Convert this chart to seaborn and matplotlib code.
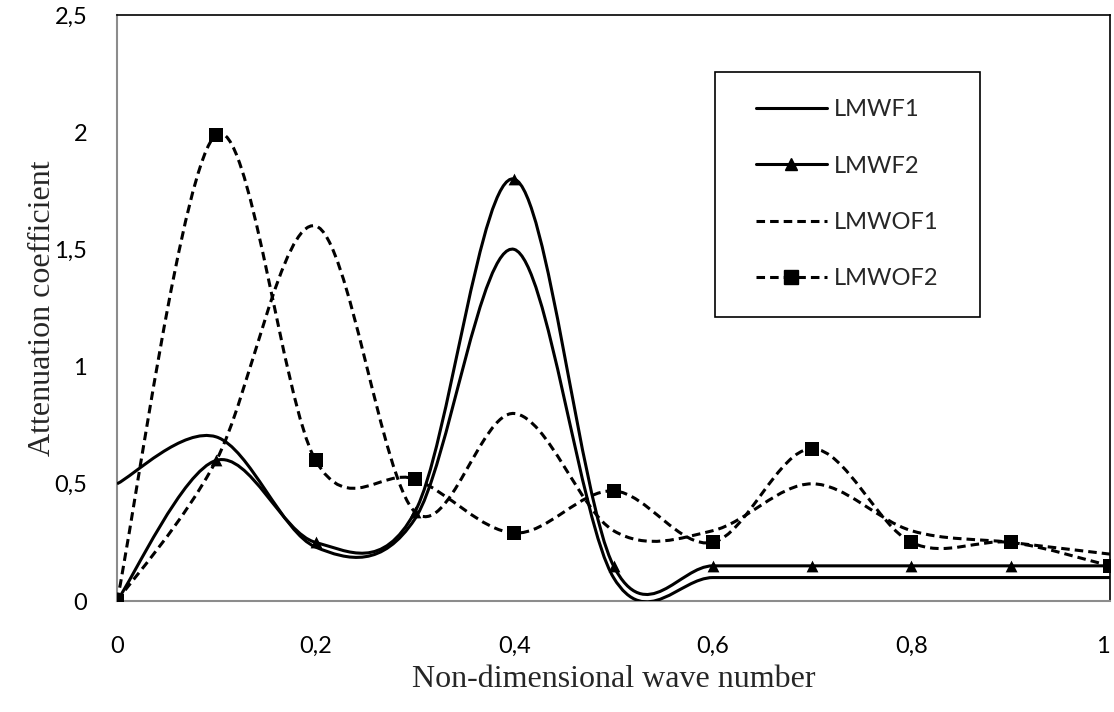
import numpy as np
import matplotlib
matplotlib.use("Agg")
import matplotlib.pyplot as plt
import seaborn as sns
from matplotlib.path import Path
from matplotlib.patches import PathPatch, Rectangle
from matplotlib.lines import Line2D


# values
wave_number = [0.0, 0.1, 0.2, 0.3, 0.4, 0.5, 0.6, 0.7, 0.8, 0.9, 1.0]
lmwf1 = [0.5, 0.7, 0.23, 0.35, 1.5, 0.1, 0.1, 0.1, 0.1, 0.1, 0.1]
lmwf2 = [0.0, 0.6, 0.25, 0.38, 1.8, 0.15, 0.15, 0.15, 0.15, 0.15, 0.15]
lmwof1 = [0.0, 0.6, 1.6, 0.38, 0.8, 0.3, 0.3, 0.5, 0.3, 0.25, 0.2]
lmwof2 = [0.0, 1.99, 0.6, 0.52, 0.29, 0.47, 0.25, 0.65, 0.25, 0.25, 0.15]

x_ticks = [0, 0.2, 0.4, 0.6, 0.8, 1.0]
x_tick_labels = ["0", "0,2", "0,4", "0,6", "0,8", "1"]
y_ticks = [0, 0.5, 1.0, 1.5, 2.0, 2.5]
y_tick_labels = ["0", "0,5", "1", "1,5", "2", "2,5"]

LW = 2.2
DASH = (0, (2.8, 1.65))


def smooth_path(x, y):
    # Excel-like smoothed line: cubic Bezier through every point,
    # control points taken from the neighbouring points (Catmull-Rom)
    pts = np.column_stack([x, y])
    ext = np.vstack([pts[0], pts, pts[-1]])
    verts = [pts[0]]
    codes = [Path.MOVETO]
    for i in range(len(pts) - 1):
        p0, p1, p2, p3 = ext[i], ext[i + 1], ext[i + 2], ext[i + 3]
        verts += [p1 + (p2 - p0) / 6, p2 - (p3 - p1) / 6, p2]
        codes += [Path.CURVE4] * 3
    return Path(verts, codes)


sns.set_theme(style="white")
plt.rcParams["font.family"] = ["Lato", "DejaVu Sans"]

fig = plt.figure(figsize=(11.14, 7.12), dpi=100)
ax = fig.add_axes([117 / 1114, 111 / 712, 993 / 1114, 586 / 712])

series = [
    ("LMWF1", lmwf1, "-", None),
    ("LMWF2", lmwf2, "-", "^"),
    ("LMWOF1", lmwof1, DASH, None),
    ("LMWOF2", lmwof2, DASH, "s"),
]

handles = []
for name, vals, ls, mk in series:
    patch = PathPatch(smooth_path(wave_number, vals), fill=False,
                      edgecolor="black", lw=LW, linestyle=ls,
                      capstyle="butt", zorder=3)
    ax.add_patch(patch)
    if mk is not None:
        sns.scatterplot(x=wave_number, y=vals, marker=mk, color="black",
                        s=88 if mk == "s" else 72, linewidth=0,
                        zorder=5, ax=ax)
    handles.append(Line2D([], [], color="black", lw=LW, linestyle=ls,
                          marker=mk, markersize=9.4 if mk == "s" else 8.5,
                          label=name))

ax.set_xlim(0, 1)
ax.set_ylim(0, 2.5)
ax.set_xticks(x_ticks)
ax.set_xticklabels(x_tick_labels)
ax.set_yticks(y_ticks)
ax.set_yticklabels(y_tick_labels)
ax.tick_params(axis="both", labelsize=17, colors="black", length=6,
               width=1.2, direction="out")
ax.tick_params(axis="x", pad=19, color="#8c8c8c")
ax.tick_params(axis="y", pad=15.5, color="#8c8c8c")
# last x label sits on the figure edge; keep it fully visible
ax.get_xticklabels()[-1].set_horizontalalignment("right")

for side in ["left", "bottom"]:
    ax.spines[side].set_color("#8c8c8c")
    ax.spines[side].set_linewidth(1.5)
for side in ["top", "right"]:
    ax.spines[side].set_color("black")
    ax.spines[side].set_linewidth(1.2)

ax.set_xlabel("Non-dimensional wave number", fontsize=23,
              family="Liberation Serif", labelpad=6)
ax.set_ylabel("Attenuation coefficient", fontsize=23,
              family="Liberation Serif", labelpad=-2)

# legend box drawn separately so the padding matches the reference
ax.add_patch(Rectangle((0.602, 0.485), 0.267, 0.418, transform=ax.transAxes,
                       fill=True, facecolor="white", edgecolor="black",
                       lw=1.2, zorder=6))
leg = ax.legend(handles=handles, loc="center", bbox_to_anchor=(0.7355, 0.694),
                frameon=False, fontsize=17, handlelength=2.97,
                handletextpad=0.3, labelspacing=1.5, numpoints=1)
leg.set_zorder(7)

fig.savefig("out.png", dpi=100)
